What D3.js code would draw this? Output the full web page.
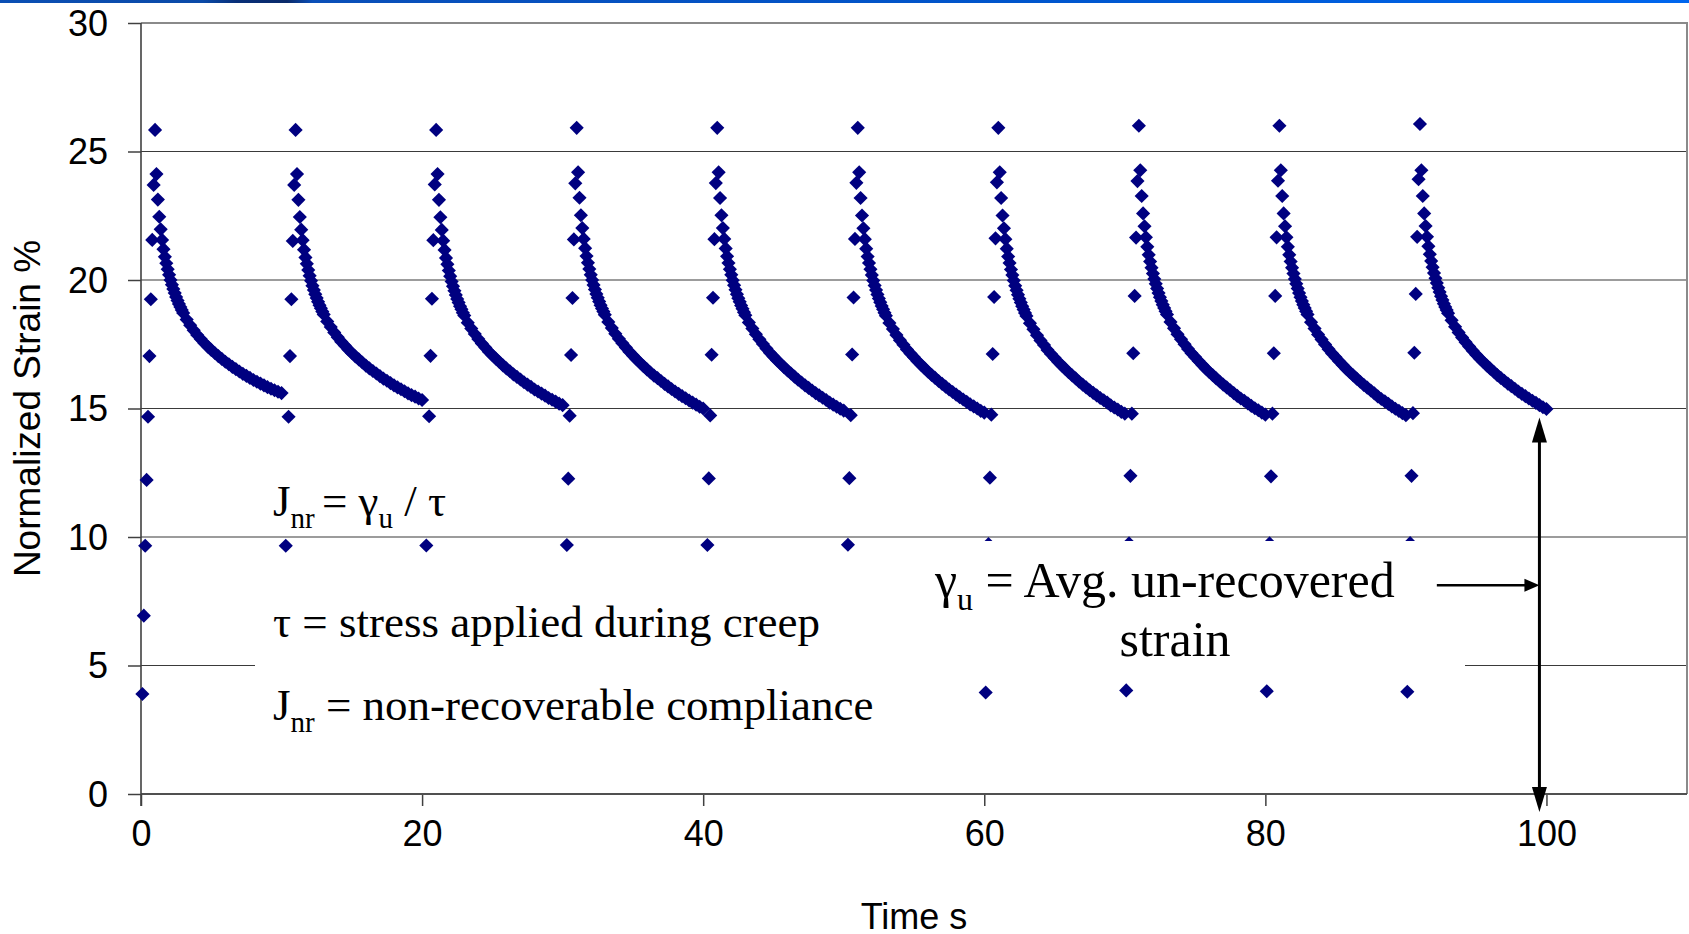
<!DOCTYPE html>
<html>
<head>
<meta charset="utf-8">
<script src="https://cdn.jsdelivr.net/npm/d3@7/dist/d3.min.js"></script>
<style>
  body { margin: 0; background: #fff; }
  svg { display: block; }
</style>
</head>
<body>
<script>
// time (s) at which each creep/recovery cycle starts
var cycleStarts = [0, 10, 20, 30, 40, 50, 60, 70, 80, 90];

// sample times inside one cycle (s from the cycle start)
var creepTimes = [0.1, 0.2, 0.3, 0.4, 0.5, 0.6, 0.7, 0.8, 0.9, 1.0];
var recoveryTimes = [1.1, 1.2, 1.3, 1.4, 1.5, 1.6, 1.7, 1.8, 1.9, 2.0,
  2.1, 2.2, 2.3, 2.4, 2.5, 2.6, 2.7, 2.8, 2.9, 3.0,
  3.25, 3.5, 3.75, 4.0, 4.25, 4.5, 4.75, 5.0, 5.25, 5.5, 5.75, 6.0,
  6.25, 6.5, 6.75, 7.0, 7.25, 7.5, 7.75, 8.0, 8.25, 8.5, 8.75, 9.0,
  9.25, 9.5, 9.75, 10.0];

// normalized strain % during creep, one array per cycle
var creep1  = [3.89, 6.94, 9.66, 12.22, 14.68, 17.04, 19.25, 21.56, 23.70, 25.84];
var creep2  = [3.90, 6.95, 9.66, 12.22, 14.68, 17.04, 19.25, 21.52, 23.70, 25.84];
var creep3  = [3.90, 6.96, 9.67, 12.24, 14.70, 17.05, 19.27, 21.55, 23.72, 25.84];
var creep4  = [3.92, 6.98, 9.69, 12.27, 14.72, 17.08, 19.30, 21.58, 23.76, 25.92];
var creep5  = [3.92, 6.98, 9.69, 12.28, 14.73, 17.09, 19.31, 21.59, 23.77, 25.92];
var creep6  = [3.93, 6.99, 9.70, 12.29, 14.74, 17.10, 19.32, 21.60, 23.78, 25.92];
var creep7  = [3.95, 7.00, 9.72, 12.31, 14.76, 17.12, 19.34, 21.62, 23.80, 25.92];
var creep8  = [4.03, 7.05, 9.75, 12.38, 14.80, 17.15, 19.38, 21.65, 23.85, 26.00];
var creep9  = [4.00, 7.04, 9.75, 12.36, 14.80, 17.15, 19.38, 21.66, 23.86, 26.00];
var creep10 = [3.98, 7.05, 9.76, 12.38, 14.82, 17.17, 19.46, 21.68, 23.92, 26.07];

// normalized strain % during recovery, one array per cycle
var recovery1 = [24.12, 23.13, 22.46, 21.97, 21.56, 21.20, 20.90, 20.65, 20.42, 20.20,
  20.00, 19.82, 19.65, 19.49, 19.34, 19.20, 19.07, 18.95, 18.83, 18.72,
  18.46, 18.24, 18.04, 17.86, 17.70, 17.55, 17.41, 17.28, 17.16, 17.04, 16.93, 16.82,
  16.72, 16.62, 16.53, 16.44, 16.35, 16.27, 16.19, 16.11, 16.04, 15.97, 15.90, 15.83,
  15.77, 15.71, 15.65, 15.60];
var recovery2 = [24.12, 23.12, 22.45, 21.96, 21.55, 21.18, 20.88, 20.63, 20.39, 20.17,
  19.97, 19.78, 19.61, 19.45, 19.30, 19.15, 19.02, 18.90, 18.77, 18.66,
  18.39, 18.17, 17.96, 17.77, 17.60, 17.45, 17.30, 17.16, 17.03, 16.91, 16.79, 16.67,
  16.56, 16.46, 16.36, 16.26, 16.16, 16.08, 15.99, 15.90, 15.82, 15.75, 15.67, 15.59,
  15.52, 15.46, 15.39, 15.33];
var recovery3 = [24.12, 23.12, 22.44, 21.95, 21.53, 21.17, 20.86, 20.61, 20.37, 20.15,
  19.94, 19.76, 19.58, 19.42, 19.26, 19.12, 18.98, 18.86, 18.73, 18.62,
  18.34, 18.11, 17.90, 17.70, 17.53, 17.37, 17.21, 17.07, 16.94, 16.81, 16.68, 16.56,
  16.45, 16.33, 16.23, 16.13, 16.02, 15.93, 15.84, 15.74, 15.66, 15.58, 15.50, 15.41,
  15.34, 15.27, 15.19, 15.13];
var recovery4 = [24.19, 23.20, 22.52, 22.02, 21.60, 21.24, 20.93, 20.67, 20.43, 20.20,
  20.00, 19.81, 19.63, 19.46, 19.31, 19.16, 19.02, 18.89, 18.77, 18.65,
  18.37, 18.13, 17.91, 17.71, 17.54, 17.37, 17.21, 17.06, 16.92, 16.78, 16.65, 16.52,
  16.40, 16.28, 16.18, 16.07, 15.96, 15.86, 15.76, 15.66, 15.57, 15.48, 15.40, 15.31,
  15.23, 15.15, 15.07, 15.00];
var recovery5 = [24.19, 23.19, 22.52, 22.02, 21.60, 21.23, 20.92, 20.66, 20.42, 20.20,
  19.99, 19.80, 19.62, 19.45, 19.29, 19.15, 19.01, 18.88, 18.75, 18.63,
  18.35, 18.11, 17.89, 17.69, 17.51, 17.33, 17.17, 17.02, 16.88, 16.74, 16.61, 16.48,
  16.36, 16.24, 16.12, 16.01, 15.90, 15.80, 15.70, 15.60, 15.51, 15.42, 15.33, 15.23,
  15.15, 15.07, 14.99, 14.92];
var recovery6 = [24.19, 23.19, 22.51, 22.01, 21.59, 21.22, 20.91, 20.66, 20.42, 20.19,
  19.98, 19.79, 19.61, 19.44, 19.28, 19.13, 18.99, 18.86, 18.73, 18.61,
  18.33, 18.09, 17.86, 17.66, 17.48, 17.30, 17.14, 16.99, 16.84, 16.70, 16.57, 16.43,
  16.31, 16.19, 16.07, 15.96, 15.85, 15.74, 15.64, 15.54, 15.44, 15.35, 15.26, 15.16,
  15.08, 15.00, 14.91, 14.84];
var recovery7 = [24.19, 23.19, 22.51, 22.01, 21.59, 21.22, 20.91, 20.66, 20.41, 20.19,
  19.98, 19.78, 19.60, 19.43, 19.27, 19.12, 18.98, 18.85, 18.72, 18.60,
  18.32, 18.08, 17.85, 17.65, 17.47, 17.28, 17.12, 16.97, 16.82, 16.68, 16.55, 16.41,
  16.29, 16.17, 16.04, 15.93, 15.82, 15.71, 15.61, 15.51, 15.41, 15.32, 15.23, 15.12,
  15.04, 14.96, 14.87, 14.80];
var recovery8 = [24.27, 23.27, 22.59, 22.09, 21.66, 21.29, 20.98, 20.72, 20.48, 20.25,
  20.04, 19.85, 19.67, 19.49, 19.33, 19.18, 19.04, 18.91, 18.78, 18.66,
  18.37, 18.12, 17.89, 17.69, 17.50, 17.32, 17.15, 17.00, 16.85, 16.70, 16.56, 16.42,
  16.30, 16.17, 16.05, 15.93, 15.82, 15.71, 15.60, 15.49, 15.39, 15.30, 15.20, 15.10,
  15.01, 14.93, 14.84, 14.76];
var recovery9 = [24.27, 23.27, 22.59, 22.09, 21.66, 21.29, 20.98, 20.72, 20.48, 20.25,
  20.04, 19.85, 19.67, 19.49, 19.33, 19.18, 19.04, 18.91, 18.78, 18.66,
  18.36, 18.11, 17.88, 17.68, 17.49, 17.31, 17.14, 16.99, 16.84, 16.69, 16.55, 16.41,
  16.29, 16.16, 16.04, 15.92, 15.81, 15.70, 15.59, 15.47, 15.37, 15.28, 15.18, 15.08,
  14.99, 14.91, 14.82, 14.74];
var recovery10 = [24.27, 23.27, 22.59, 22.10, 21.68, 21.31, 21.00, 20.74, 20.50, 20.27,
  20.07, 19.88, 19.70, 19.53, 19.37, 19.22, 19.08, 18.95, 18.83, 18.71,
  18.43, 18.18, 17.96, 17.76, 17.58, 17.41, 17.25, 17.09, 16.95, 16.81, 16.68, 16.55,
  16.43, 16.30, 16.19, 16.08, 15.97, 15.87, 15.77, 15.66, 15.57, 15.48, 15.39, 15.30,
  15.22, 15.13, 15.05, 14.98];

var creepValues = [creep1, creep2, creep3, creep4, creep5, creep6, creep7, creep8, creep9, creep10];
var recoveryValues = [recovery1, recovery2, recovery3, recovery4, recovery5,
  recovery6, recovery7, recovery8, recovery9, recovery10];

var xTicks = [0, 20, 40, 60, 80, 100];
var yTicks = [0, 5, 10, 15, 20, 25, 30];

var width = 1689,
    height = 934;

var plot = {left: 141, right: 1687, top: 23, bottom: 794};

var x = d3.scaleLinear().domain([0, 110]).range([plot.left, plot.right]);
var y = d3.scaleLinear().domain([0, 30]).range([plot.bottom, plot.top]);

// flatten every cycle into one list of points
var points = [];
cycleStarts.forEach(function(start, i) {
  creepTimes.forEach(function(t, j) {
    points.push({t: start + t, v: creepValues[i][j]});
  });
  recoveryTimes.forEach(function(t, j) {
    points.push({t: start + t, v: recoveryValues[i][j]});
  });
});

var svg = d3.select("body").append("svg")
    .attr("width", width)
    .attr("height", height);

var defs = svg.append("defs");

// blue strip along the top edge
var grad = defs.append("linearGradient").attr("id", "topbar");
[["0%", "#0b4fb4"], ["12%", "#0a4aa8"], ["14%", "#082f78"], ["17%", "#0a2a6a"],
 ["18.5%", "#0a4fb8"], ["60%", "#0055cc"], ["100%", "#0066ee"]].forEach(function(s) {
  grad.append("stop").attr("offset", s[0]).attr("stop-color", s[1]);
});
svg.append("rect")
    .attr("x", 0).attr("y", 0)
    .attr("width", width).attr("height", 3)
    .attr("fill", "url(#topbar)");

// horizontal gridlines
svg.append("g")
  .selectAll("line")
  .data(yTicks.filter(function(d) { return d > 0 && d < 30; }))
  .enter().append("line")
    .attr("x1", plot.left).attr("x2", plot.right)
    .attr("y1", function(d) { return y(d); })
    .attr("y2", function(d) { return y(d); })
    .attr("stroke", "#3a3a3a")
    .attr("stroke-width", 1.2);

// plot border top and right
svg.append("path")
    .attr("d", "M" + plot.left + "," + y(30) + "H" + plot.right + "V" + plot.bottom)
    .attr("fill", "none")
    .attr("stroke", "#8a8a8a")
    .attr("stroke-width", 2);

// axes
var xAxis = d3.axisBottom(x).tickValues(xTicks).tickSize(12).tickPadding(14);
var yAxis = d3.axisLeft(y).tickValues(yTicks).tickSize(13).tickPadding(20);

var gx = svg.append("g")
    .attr("transform", "translate(0," + plot.bottom + ")")
    .call(xAxis);
var gy = svg.append("g")
    .attr("transform", "translate(" + plot.left + ",0)")
    .call(yAxis);

[gx, gy].forEach(function(g) {
  g.select(".domain").remove();
  g.selectAll(".tick line").attr("stroke", "#404040").attr("stroke-width", 1.5);
  g.selectAll(".tick text")
    .attr("fill", "#000")
    .style("font-family", "'Liberation Sans', Arial, sans-serif")
    .style("font-size", "36px");
});
gy.selectAll(".tick text").attr("dy", "0.34em");
gx.selectAll(".tick text").attr("dy", "0.72em");

svg.append("line")
    .attr("x1", plot.left).attr("x2", plot.right)
    .attr("y1", plot.bottom).attr("y2", plot.bottom)
    .attr("stroke", "#505050").attr("stroke-width", 2);
svg.append("line")
    .attr("x1", plot.left).attr("x2", plot.left)
    .attr("y1", plot.top).attr("y2", plot.bottom + 12)
    .attr("stroke", "#404040").attr("stroke-width", 1.6);

// axis titles
svg.append("text")
    .attr("x", (plot.left + plot.right) / 2)
    .attr("y", 929)
    .attr("text-anchor", "middle")
    .style("font-family", "'Liberation Sans', Arial, sans-serif")
    .style("font-size", "36px")
    .text("Time s");

svg.append("text")
    .attr("transform", "translate(40," + (plot.top + plot.bottom) / 2 + ") rotate(-90)")
    .attr("text-anchor", "middle")
    .style("font-family", "'Liberation Sans', Arial, sans-serif")
    .style("font-size", "37px")
    .text("Normalized Strain %");

// data markers: navy diamonds
var diamond = d3.symbol().type(d3.symbolSquare).size(100);
svg.append("g")
  .selectAll("path")
  .data(points)
  .enter().append("path")
    .attr("d", diamond)
    .attr("transform", function(d) {
      return "translate(" + x(d.t) + "," + y(d.v) + ") rotate(45)";
    })
    .attr("fill", "#000080");

// annotation text boxes (white background hides what is behind)
var serif = "'Liberation Serif', 'Times New Roman', serif";
var notes = svg.append("g").style("font-family", serif).attr("fill", "#000");

notes.append("rect").attr("x", 255).attr("y", 458).attr("width", 205).attr("height", 76).attr("fill", "#fff");
notes.append("rect").attr("x", 255).attr("y", 558).attr("width", 650).attr("height", 186).attr("fill", "#fff");
notes.append("rect").attr("x", 900).attr("y", 541).attr("width", 565).attr("height", 141).attr("fill", "#fff");

function addSub(textSel, parts, subSize, shift) {
  parts.forEach(function(p) {
    var ts = textSel.append("tspan").text(p[0]);
    if (p[1]) ts.style("font-size", subSize + "px").attr("dy", shift);
    else if (p[2]) ts.attr("dy", -shift);
  });
}

var t1 = notes.append("text").attr("x", 273).attr("y", 516).style("font-size", "45px");
addSub(t1, [["J"], ["nr ", true], ["= \u03b3", false, true], ["u", true], [" / \u03c4", false, true]], 29, 12);

notes.append("text").attr("x", 273).attr("y", 637).style("font-size", "45px")
    .text("\u03c4 = stress applied during creep");

var t3 = notes.append("text").attr("x", 273).attr("y", 720).style("font-size", "45px");
addSub(t3, [["J"], ["nr", true], [" = non-recoverable compliance", false, true]], 29, 12);

var t4 = notes.append("text").attr("x", 935).attr("y", 597).style("font-size", "50px");
addSub(t4, [["\u03b3"], ["u", true], [" = Avg. un-recovered", false, true]], 32, 13);

notes.append("text").attr("x", 1175).attr("y", 656).attr("text-anchor", "middle")
    .style("font-size", "50px")
    .text("strain");

// arrows
var arrows = svg.append("g").attr("fill", "#000").attr("stroke", "#000");
var ax = x(99.5),
    yTop = y(14.65),
    yBot = y(-0.7);
arrows.append("line")
    .attr("x1", ax).attr("x2", ax)
    .attr("y1", yTop + 20).attr("y2", yBot - 20)
    .attr("stroke-width", 3);
arrows.append("path")
    .attr("d", "M" + ax + "," + yTop + "l-7.5,25h15z")
    .attr("stroke", "none");
arrows.append("path")
    .attr("d", "M" + ax + "," + yBot + "l-7.5,-25h15z")
    .attr("stroke", "none");

var hy = y(8.12),
    hx0 = x(92.2);
arrows.append("line")
    .attr("x1", hx0).attr("x2", ax - 12)
    .attr("y1", hy).attr("y2", hy)
    .attr("stroke-width", 2.5);
arrows.append("path")
    .attr("d", "M" + ax + "," + hy + "l-15,-6.5v13z")
    .attr("stroke", "none");
</script>
</body>
</html>
